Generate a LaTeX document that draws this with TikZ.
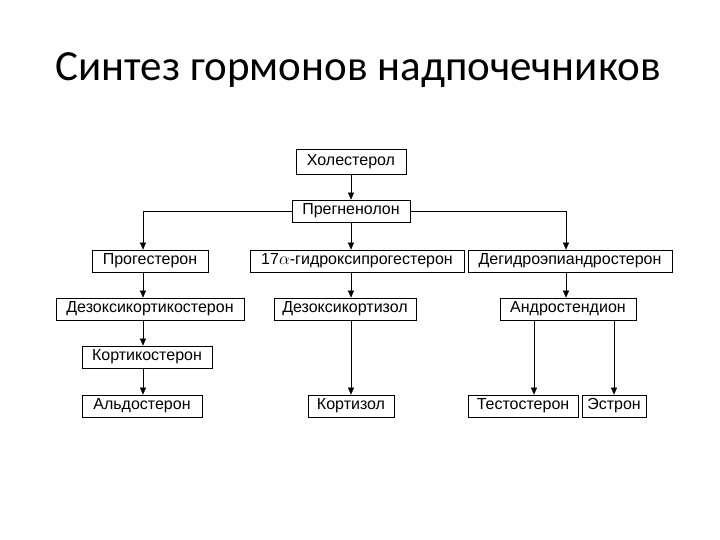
\documentclass[tikz,border=0pt]{standalone}
\usepackage{fontspec}
\setmainfont{Liberation Sans}
\newfontfamily\titlefont{Carlito}
\usetikzlibrary{arrows.meta}
\begin{document}
\begin{tikzpicture}[x=1pt,y=-1pt,
  box/.style={draw,line width=0.7pt,minimum height=22pt,inner sep=1pt,font=\fontsize{16}{18}\selectfont},
  arr/.style={-{Triangle[length=7pt,width=6pt]},line width=0.6pt}]
\useasboundingbox (0,0) rectangle (720,540);
\node[font=\titlefont\fontsize{43}{48}\selectfont] (title) at (358,70) {Синтез гормонов надпочечников};
\node[box,minimum width=110pt,minimum height=25pt] (chol) at (351,162) {Холестерол};
\node[box,minimum width=118pt] (preg) at (351,211) {Прегненолон};
\node[box,minimum width=116pt] (prog) at (150,261) {Прогестерон};
\node[box,minimum width=214pt] (hp) at (357,261) {17$\alpha$-гидроксипрогестерон};
\node[box,minimum width=204pt] (dhea) at (570,261) {Дегидроэпиандростерон};
\node[box,minimum width=188pt] (doc) at (150,309) {Дезоксикортикостерон};
\node[box,minimum width=142pt] (dcort) at (345,309) {Дезоксикортизол};
\node[box,minimum width=136pt] (andr) at (568,309) {Андростендион};
\node[box,minimum width=130pt] (cortc) at (147,357) {Кортикостерон};
\node[box,minimum width=120pt] (ald) at (142,406) {Альдостерон};
\node[box,minimum width=86pt] (cort) at (351,406) {Кортизол};
\node[box,minimum width=110pt] (test) at (523,406) {Тестостерон};
\node[box,minimum width=64pt] (estr) at (614,406) {Эстрон};
\draw[arr] (chol) -- (preg);
\draw[arr] (preg.west) -| ([xshift=-7pt]prog.north);
\draw[arr] (preg.east) -| ([xshift=-4pt]dhea.north);
\draw[arr] (preg.south) -- (preg.south |- hp.north);
\draw[arr] ([xshift=-7pt]prog.south) -- ([xshift=-7pt]prog.south |- doc.north);
\draw[arr] ([xshift=-7pt]prog.south |- doc.south) -- ([xshift=-7pt]prog.south |- cortc.north);
\draw[arr] ([xshift=-7pt]prog.south |- cortc.south) -- ([xshift=-7pt]prog.south |- ald.north);
\draw[arr] (preg.south |- hp.south) -- (preg.south |- dcort.north);
\draw[arr] (preg.south |- dcort.south) -- (cort.north);
\draw[arr] ([xshift=-4pt]dhea.south) -- ([xshift=-4pt]dhea.south |- andr.north);
\draw[arr] (andr.south -| 534,0) -- (test.north -| 534,0);
\draw[arr] (andr.south -| estr.north) -- (estr.north);
\end{tikzpicture}
\end{document}
